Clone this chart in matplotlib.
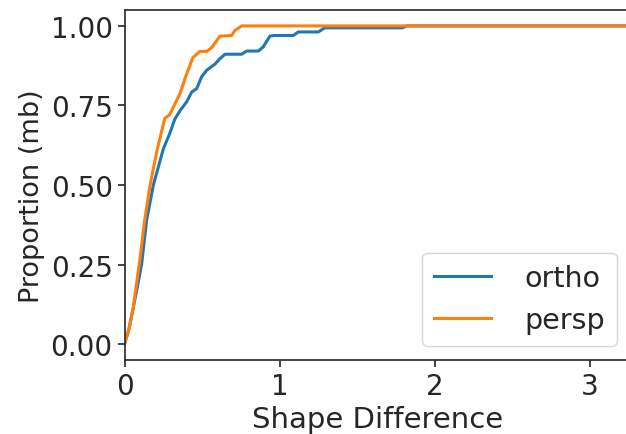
import matplotlib
matplotlib.use("Agg")
import matplotlib.pyplot as plt

# persp (orange)
persp_x = [0, 0.03, 0.055, 0.10, 0.13, 0.165, 0.21, 0.26, 0.29, 0.36, 0.39, 0.44,
           0.486, 0.53, 0.562, 0.615, 0.69, 0.712, 0.755, 3.3]
persp_y = [0, 0.05, 0.11, 0.27, 0.39, 0.50, 0.61, 0.71, 0.72, 0.79, 0.835, 0.90,
           0.92, 0.92, 0.932, 0.968, 0.97, 0.986, 1.0, 1.0]

# ortho (blue)
ortho_x = [0, 0.03, 0.075, 0.11, 0.143, 0.186, 0.25, 0.29, 0.325, 0.36, 0.40, 0.433,
           0.465, 0.497, 0.53, 0.583, 0.615, 0.648, 0.755, 0.787, 0.862, 0.894, 0.937,
           0.97, 1.088, 1.12, 1.249, 1.29, 1.79, 1.82, 3.3]
ortho_y = [0, 0.05, 0.16, 0.25, 0.39, 0.50, 0.613, 0.66, 0.708, 0.735, 0.761, 0.792,
           0.803, 0.84, 0.861, 0.88, 0.897, 0.911, 0.911, 0.921, 0.921, 0.934, 0.968,
           0.97, 0.97, 0.981, 0.981, 0.994, 0.994, 1.0, 1.0]

x_ticks = [0, 1, 2, 3]
y_ticks = [0.00, 0.25, 0.50, 0.75, 1.00]

dark = "#262626"
plt.rcParams["font.family"] = ["DejaVu Sans"]
plt.rcParams["text.color"] = dark
plt.rcParams["axes.labelcolor"] = dark
plt.rcParams["xtick.color"] = dark
plt.rcParams["ytick.color"] = dark
plt.rcParams["axes.edgecolor"] = dark

fig = plt.figure(figsize=(6.26, 4.35), dpi=100)
W, H = 626, 435
left, right, top, bottom = 124.5, 631, 11, 361
ax = fig.add_axes([left / W, (H - bottom) / H, (right - left) / W, (bottom - top) / H])

ax.plot(ortho_x, ortho_y, color="#1f77b4", lw=2.2, label="ortho")
ax.plot(persp_x, persp_y, color="#ff7f0e", lw=2.2, label="persp")

ax.set_xlim(0, 3.264)
ax.set_ylim(-0.05, 1.05)
ax.set_xticks(x_ticks)
ax.set_xticklabels([str(t) for t in x_ticks])
ax.set_yticks(y_ticks)
ax.set_yticklabels([f"{t:.2f}" for t in y_ticks])
ax.tick_params(labelsize=20, width=1.2, length=5)
for s in ax.spines.values():
    s.set_linewidth(1.2)
ax.set_xlabel("Shape Difference", fontsize=21)
ax.set_ylabel("Proportion (mb)", fontsize=19.5)
ax.yaxis.label.set_y(0.47)
ax.legend(loc="lower right", fontsize=20.5, handlelength=2.0, handletextpad=1.2)

fig.savefig("out.png", dpi=100)
